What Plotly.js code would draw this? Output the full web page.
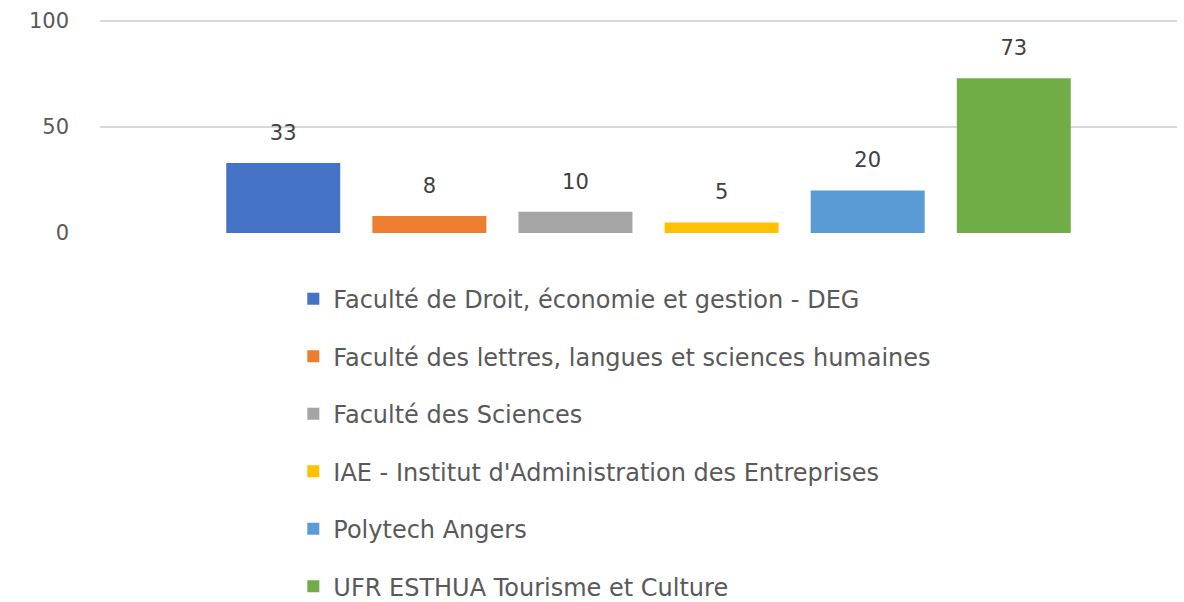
<!DOCTYPE html>
<html>
<head>
<meta charset="utf-8">
<script src="https://cdn.plot.ly/plotly-3.0.1.min.js"></script>
<style>html,body{margin:0;padding:0;background:#fff;}#chart{width:1184px;height:602px;}</style>
</head>
<body>
<div id="chart"></div>
<script>
const category = ["Composante"];
const seriesNames = [
  "Faculté de Droit, économie et gestion - DEG",
  "Faculté des lettres, langues et sciences humaines",
  "Faculté des Sciences",
  "IAE - Institut d'Administration des Entreprises",
  "Polytech Angers",
  "UFR ESTHUA Tourisme et Culture"
];
const seriesValues = [33, 8, 10, 5, 20, 73];
const seriesColors = ["#4472C4", "#ED7D31", "#A5A5A5", "#FFC000", "#5B9BD5", "#70AD47"];
const yTicks = [0, 50, 100];

const FONT = "DejaVu Sans, Verdana, sans-serif";
const GAP = 0.186;

const barTraces = seriesNames.map((name, i) => ({
  type: "bar",
  name: name,
  x: category,
  y: [seriesValues[i]],
  marker: {color: seriesColors[i]},
  legendgroup: "g" + i,
  offsetgroup: "o" + i,
  hoverinfo: "name+y"
}));

const labelTraces = seriesNames.map((name, i) => ({
  type: "scatter",
  mode: "markers+text",
  name: name,
  x: category,
  y: [seriesValues[i]],
  text: [String(seriesValues[i])],
  textposition: "top center",
  textfont: {family: FONT, size: 21, color: "#404040"},
  marker: {size: 27, opacity: 0, color: seriesColors[i]},
  offsetgroup: "o" + i,
  alignmentgroup: "labels",
  cliponaxis: false,
  showlegend: false,
  hoverinfo: "skip"
}));

const layout = {
  width: 1184,
  height: 602,
  margin: {l: 100, r: 7, t: 19, b: 369, pad: 0, autoexpand: false},
  paper_bgcolor: "#ffffff",
  plot_bgcolor: "#ffffff",
  font: {family: FONT, size: 21, color: "#595959"},
  barmode: "group",
  bargap: GAP,
  bargroupgap: 0.22,
  scattermode: "group",
  scattergap: GAP,
  xaxis: {
    type: "category",
    range: [-0.5093, 0.4907],
    showticklabels: false,
    showgrid: false,
    zeroline: false,
    showline: false,
    ticks: ""
  },
  yaxis: {
    range: [0, 101],
    tickvals: yTicks,
    ticktext: yTicks.map(String),
    showgrid: true,
    gridcolor: "#D9D9D9",
    gridwidth: 1.5,
    zeroline: false,
    showline: false,
    ticks: "",
    ticklabelstandoff: 30,
    tickfont: {family: FONT, size: 21, color: "#595959"}
  },
  showlegend: true,
  legend: {
    orientation: "v",
    x: 0.1795,
    xanchor: "left",
    y: -0.2042,
    yanchor: "top",
    traceorder: "grouped",
    tracegroupgap: 23.3,
    maxheight: 420,
    font: {family: FONT, size: 24, color: "#595959"},
    bgcolor: "rgba(0,0,0,0)"
  }
};

Plotly.newPlot("chart", barTraces.concat(labelTraces), layout, {displayModeBar: false, staticPlot: true});
</script>
</body>
</html>
